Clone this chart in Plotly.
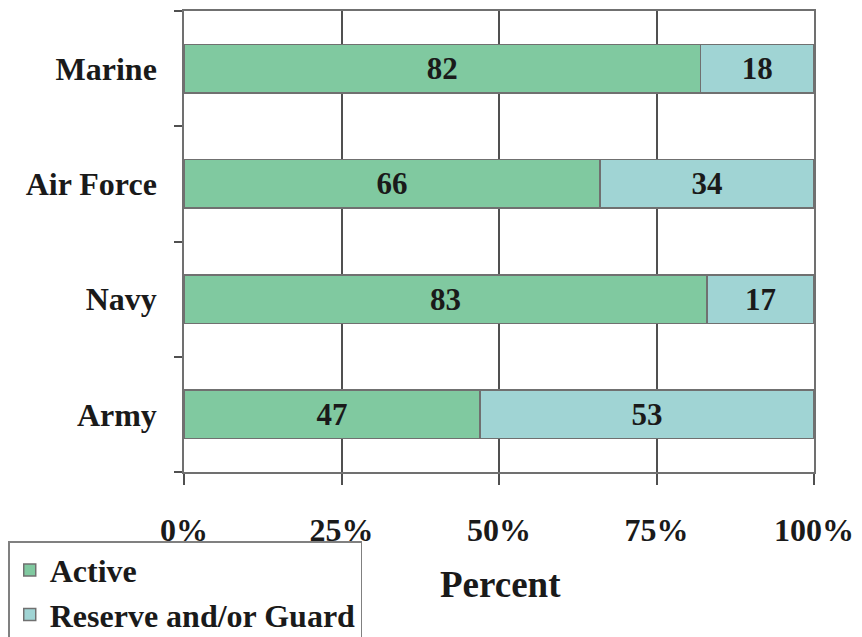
import plotly.graph_objects as go

branches = ["Army", "Navy", "Air Force", "Marine"]
active = [47, 83, 66, 82]
reserve = [53, 17, 34, 18]
x_ticks = [0, 25, 50, 75, 100]
x_tick_labels = ["0%", "25%", "50%", "75%", "100%"]

FONT = "'Liberation Serif', 'Times New Roman', Times, serif"
TXT = "#1a1a1a"

# page body has an 8px default margin; figure sized to fill the rest of the window
W, H = 854, 629

fig = go.Figure()
fig.add_trace(go.Bar(
    y=branches, x=active, orientation="h", name="<b>Active</b>",
    marker=dict(color="#80C9A0", line=dict(color="#707070", width=1.5)),
    text=[f"<b>{v}</b>" for v in active], textposition="inside",
    insidetextanchor="middle", textangle=0,
    textfont=dict(family=FONT, size=31, color=TXT),
))
fig.add_trace(go.Bar(
    y=branches, x=reserve, orientation="h", name="<b>Reserve and/or Guard</b>",
    marker=dict(color="#A0D4D4", line=dict(color="#707070", width=1.5)),
    text=[f"<b>{v}</b>" for v in reserve], textposition="inside",
    insidetextanchor="middle", textangle=0,
    textfont=dict(family=FONT, size=31, color=TXT),
))

fig.update_layout(
    barmode="stack", bargap=0.58,
    width=W, height=H,
    margin=dict(l=176, r=48, t=3, b=165, autoexpand=False),
    paper_bgcolor="white", plot_bgcolor="white",
    font=dict(family=FONT, size=32, color=TXT),
    uniformtext=dict(mode=False),
    legend=dict(
        x=-0.279, y=-0.150, xanchor="left", yanchor="top",
        bordercolor="#808080", borderwidth=1.5, bgcolor="white",
        font=dict(family=FONT, size=32, color=TXT),
        traceorder="normal", itemwidth=30, tracegroupgap=0,
    ),
    showlegend=True,
)
fig.update_xaxes(
    range=[0, 100], tickvals=x_ticks, ticktext=[f"<b>{t}</b>" for t in x_tick_labels],
    showgrid=True, gridcolor="#505050", gridwidth=1.5,
    showline=True, linecolor="#707070", linewidth=1.5, mirror=True,
    ticks="outside", ticklen=11, tickcolor="#505050", tickwidth=1.5,
    ticklabelstandoff=18, zeroline=False,
    tickfont=dict(family=FONT, size=32, color=TXT),
)
fig.update_yaxes(
    type="category", categoryorder="array", categoryarray=branches,
    tickson="boundaries", ticks="outside", ticklen=8, tickcolor="#505050", tickwidth=1.5,
    showgrid=False, showline=True, linecolor="#707070", linewidth=1.5, mirror=True,
    ticktext=[f"<b>{b}</b>" for b in branches], tickvals=branches,
    ticklabelstandoff=19,
    tickfont=dict(family=FONT, size=32, color=TXT),
)
fig.add_annotation(
    text="<b>Percent</b>", xref="paper", yref="paper",
    x=(500 - 184) / 630, y=(472 - 585) / 464, xanchor="center", yanchor="middle",
    showarrow=False, font=dict(family=FONT, size=37, color=TXT),
)

fig.write_html("out.html")
